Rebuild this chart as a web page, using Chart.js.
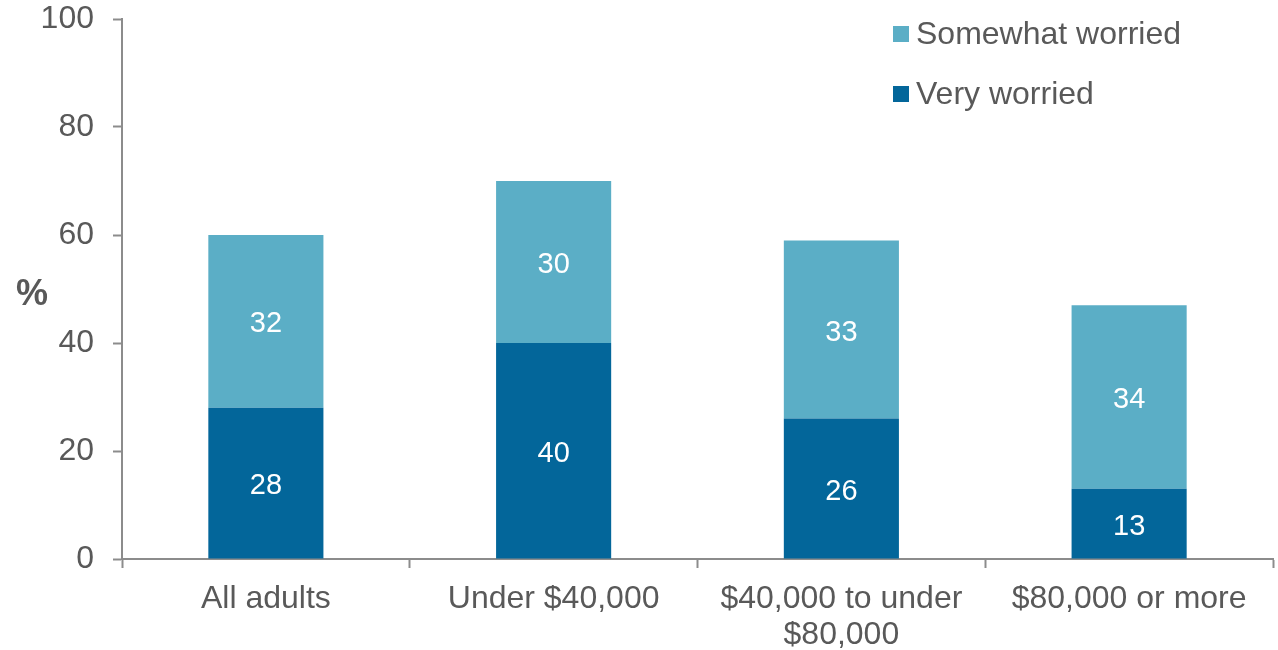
<!DOCTYPE html>
<html>
<head>
<meta charset="utf-8">
<script src="https://cdn.jsdelivr.net/npm/chart.js@4"></script>
<style>
  html, body { margin: 0; padding: 0; background: #fff; }
  #wrap { width: 1278px; height: 650px; }
</style>
</head>
<body>
<div id="wrap"><canvas id="chart" width="1278" height="650"></canvas></div>
<script>
'use strict';

const categories = ['All adults', 'Under $40,000', ['$40,000 to under', '$80,000'], '$80,000 or more'];
const veryWorried = [28, 40, 26, 13];
const somewhatWorried = [32, 30, 33, 34];
const yTicks = [0, 20, 40, 60, 80, 100];

const FONT = "'Liberation Sans', Arial, sans-serif";
const TEXT = '#595959';
const AXIS = '#8c8c8c';
const DARK = '#03669A';
const LIGHT = '#5BAEC6';

// white numbers in the middle of each bar piece
const barLabels = {
    id: 'barLabels',
    afterDatasetsDraw (chart) {
        const ctx = chart.ctx;
        ctx.save();
        ctx.fillStyle = '#fff';
        ctx.font = '29px ' + FONT;
        ctx.textAlign = 'center';
        ctx.textBaseline = 'middle';
        chart.data.datasets.forEach((ds, i) => {
            chart.getDatasetMeta(i).data.forEach((bar, j) => {
                ctx.fillText(ds.data[j], bar.x, (bar.y + bar.base) / 2 + 3);
            });
        });
        ctx.restore();
    }
};

// legend in the top right corner, plus the "%" axis title
const extras = {
    id: 'extras',
    afterDraw (chart) {
        const ctx = chart.ctx;
        const area = chart.chartArea;
        ctx.save();
        ctx.textBaseline = 'middle';
        ctx.textAlign = 'left';
        ctx.font = '32px ' + FONT;
        const sets = chart.data.datasets.slice().reverse();
        sets.forEach((ds, i) => {
            const y = area.top + 15 + i * 60;
            ctx.fillStyle = ds.backgroundColor;
            ctx.fillRect(area.right - 380, y - 8, 16, 16);
            ctx.fillStyle = TEXT;
            ctx.fillText(ds.label, area.right - 357, y + 1);
        });
        ctx.font = 'bold 36px ' + FONT;
        ctx.textAlign = 'center';
        ctx.fillText('%', 32, (area.top + area.bottom) / 2 + 6);
        ctx.restore();
    }
};

const config = {
    type: 'bar',
    data: {
        labels: categories,
        datasets: [{
            label: 'Very worried',
            data: veryWorried,
            backgroundColor: DARK
        },
        {
            label: 'Somewhat worried',
            data: somewhatWorried,
            backgroundColor: LIGHT
        }]
    },
    options: {
        responsive: false,
        animation: false,
        layout: { padding: { top: 19, right: 5, left: 0, bottom: 0 } },
        datasets: {
            bar: { categoryPercentage: 1, barPercentage: 0.4 }
        },
        plugins: {
            legend: { display: false },
            tooltip: { enabled: false }
        },
        scales: {
            x: {
                stacked: true,
                offset: true,
                grid: {
                    offset: true,
                    drawOnChartArea: false,
                    drawTicks: true,
                    tickLength: 9,
                    tickWidth: 2,
                    tickColor: AXIS
                },
                border: { color: AXIS, width: 2 },
                ticks: {
                    color: TEXT,
                    font: { family: FONT, size: 32, lineHeight: 1.1 },
                    padding: 14,
                    maxRotation: 0,
                    autoSkip: false
                },
                afterFit (scale) { scale.height = 91; }
            },
            y: {
                stacked: true,
                min: 0,
                max: 100,
                afterBuildTicks (scale) {
                    scale.ticks = yTicks.map(v => ({ value: v }));
                },
                grid: {
                    drawOnChartArea: false,
                    drawTicks: true,
                    tickLength: 9,
                    tickWidth: 2,
                    tickColor: AXIS
                },
                border: { color: AXIS, width: 2 },
                ticks: {
                    color: TEXT,
                    font: { family: FONT, size: 32 },
                    padding: 19
                },
                afterFit (scale) {
                    scale.width = 122;
                    scale.paddingTop = 0;
                    scale.paddingBottom = 0;
                }
            }
        }
    },
    plugins: [barLabels, extras]
};

new Chart(document.getElementById('chart').getContext('2d'), config);
</script>
</body>
</html>
